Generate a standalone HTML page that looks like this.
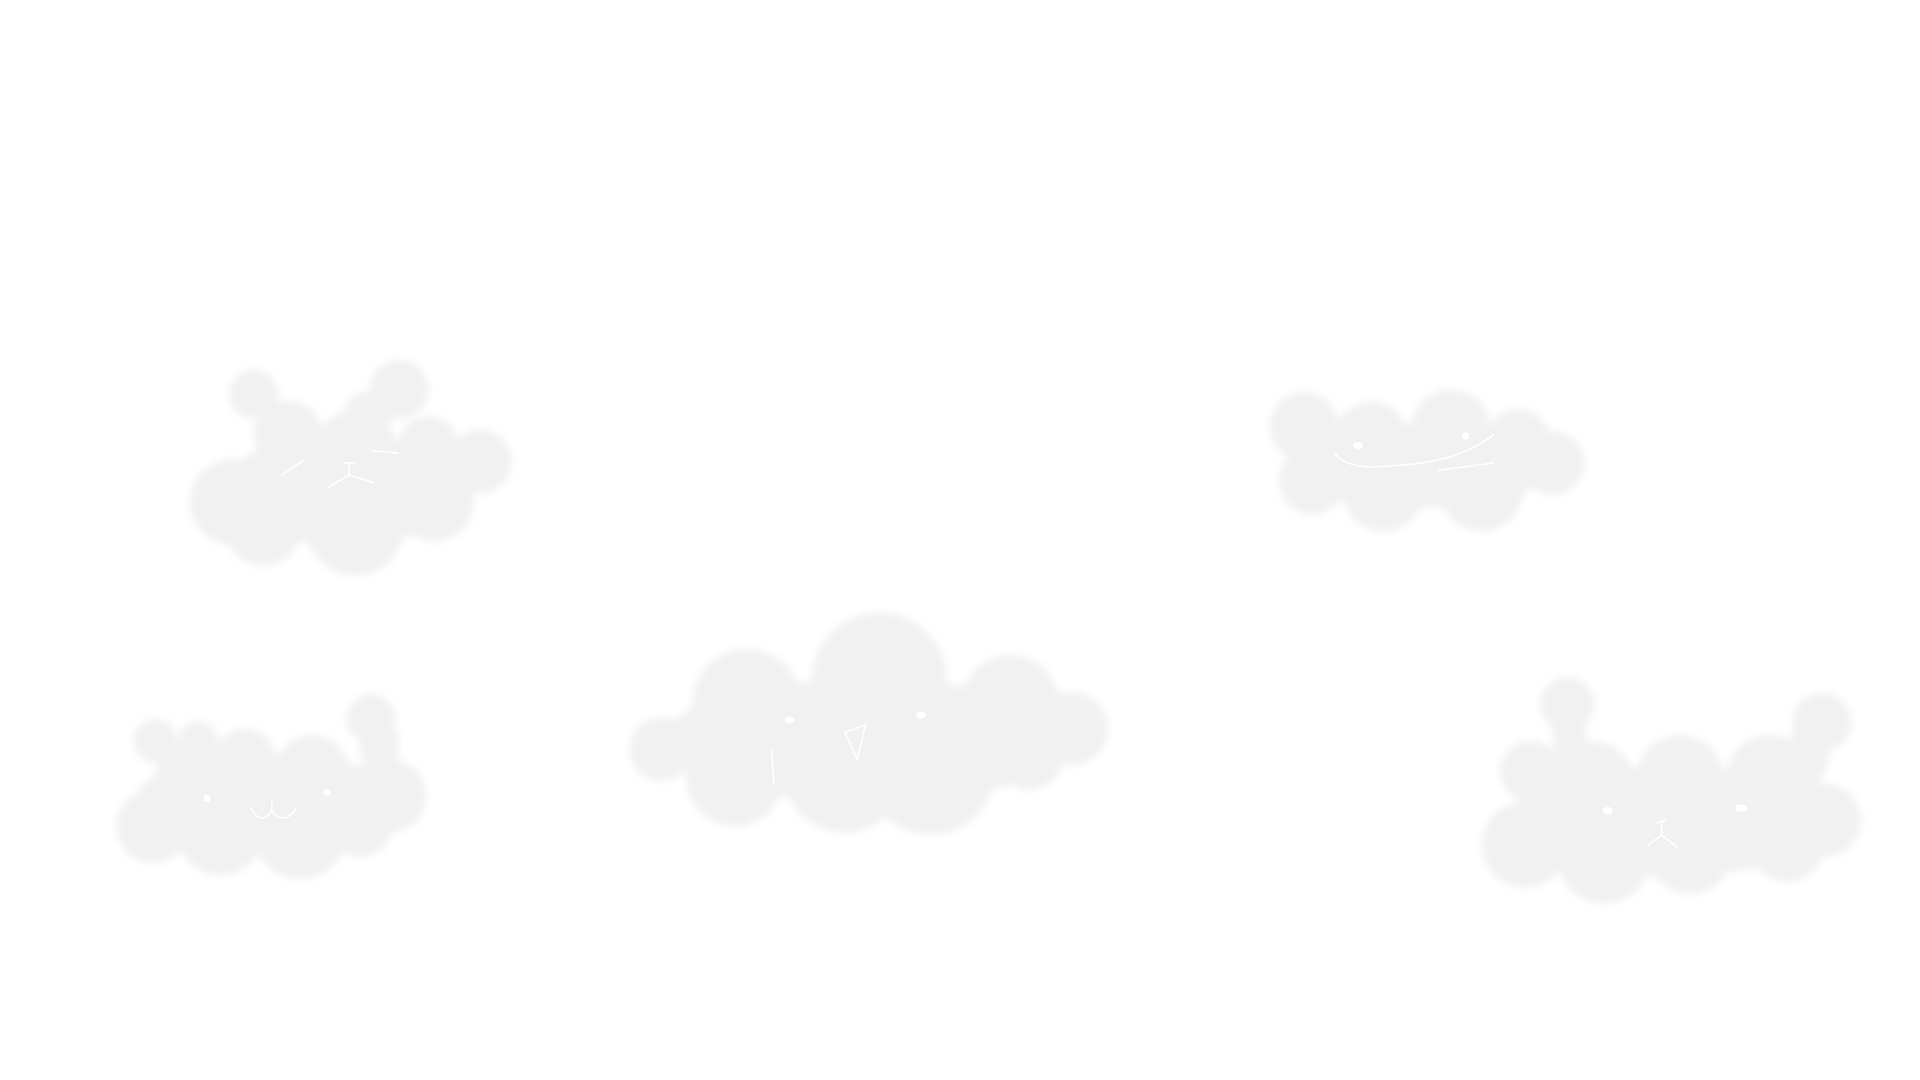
<!DOCTYPE html>
<html><head><meta charset="utf-8"><style>html,body{margin:0;padding:0;background:#fff;width:1920px;height:1080px;overflow:hidden}</style></head>
<body>
<svg width="1920" height="1080" viewBox="0 0 1568 882" xmlns="http://www.w3.org/2000/svg">
<defs><filter id="b" x="-20%" y="-20%" width="140%" height="140%"><feGaussianBlur stdDeviation="3"/></filter></defs>
<rect width="1568" height="882" fill="#fff"/>
<g fill="#f1f1f1" filter="url(#b)">
<!-- cloud 1 -->
<circle cx="207" cy="322" r="20"/><circle cx="326" cy="318" r="24"/><circle cx="300" cy="340" r="20"/>
<circle cx="235" cy="355" r="28"/><circle cx="290" cy="370" r="35"/><circle cx="350" cy="365" r="25"/>
<circle cx="392" cy="377" r="26"/><circle cx="190" cy="410" r="35"/><circle cx="215" cy="430" r="32"/>
<circle cx="290" cy="430" r="40"/><circle cx="355" cy="410" r="32"/><circle cx="250" cy="400" r="40"/>
<ellipse cx="280" cy="400" rx="100" ry="45"/>
<!-- cloud 2 -->
<circle cx="1065" cy="348" r="28"/><circle cx="1120" cy="358" r="30"/><circle cx="1185" cy="350" r="32"/>
<circle cx="1240" cy="360" r="26"/><circle cx="1268" cy="378" r="26"/><circle cx="1072" cy="392" r="28"/>
<circle cx="1130" cy="400" r="34"/><circle cx="1210" cy="400" r="34"/><circle cx="1160" cy="380" r="35"/>
<ellipse cx="1160" cy="380" rx="110" ry="35"/>
<!-- cloud 3 -->
<circle cx="540" cy="612" r="26"/><circle cx="610" cy="575" r="45"/><circle cx="718" cy="555" r="55"/>
<circle cx="825" cy="575" r="40"/><circle cx="875" cy="595" r="30"/><circle cx="600" cy="635" r="40"/>
<circle cx="690" cy="630" r="50"/><circle cx="760" cy="630" r="52"/><circle cx="840" cy="615" r="30"/>
<ellipse cx="710" cy="605" rx="170" ry="50"/>
<!-- cloud 4 -->
<circle cx="127" cy="605" r="18"/><circle cx="162" cy="605" r="16"/><circle cx="200" cy="620" r="25"/>
<circle cx="255" cy="630" r="30"/><circle cx="303" cy="587" r="20"/><circle cx="318" cy="650" r="30"/>
<circle cx="125" cy="675" r="30"/><circle cx="180" cy="680" r="35"/><circle cx="245" cy="680" r="38"/>
<circle cx="295" cy="675" r="25"/><circle cx="160" cy="640" r="35"/>
<ellipse cx="220" cy="655" rx="110" ry="40"/>
<ellipse cx="310" cy="610" rx="16" ry="25"/>
<!-- cloud 5 -->
<circle cx="1280" cy="575" r="22"/><circle cx="1488" cy="590" r="24"/><circle cx="1250" cy="630" r="25"/>
<circle cx="1300" cy="640" r="35"/><circle cx="1372" cy="635" r="35"/><circle cx="1445" cy="635" r="35"/>
<circle cx="1490" cy="670" r="30"/><circle cx="1245" cy="690" r="35"/><circle cx="1310" cy="700" r="38"/>
<circle cx="1380" cy="695" r="35"/><circle cx="1460" cy="690" r="30"/><circle cx="1360" cy="665" r="45"/>
<ellipse cx="1365" cy="670" rx="135" ry="45"/>
<ellipse cx="1282" cy="598" rx="14" ry="28"/><ellipse cx="1478" cy="612" rx="16" ry="30"/>
</g>
<g fill="none" stroke="#fff" stroke-width="1.3" stroke-linecap="round">
<path d="M230 388 L248 376"/><path d="M303 368 L325 370"/><path d="M281 378 L290 378 M285 378 L285 388 M285 388 L268 398 M285 388 L305 394"/>
<path d="M1090 370 Q1100 385 1140 380 Q1190 378 1220 355"/><path d="M1175 384 L1220 378"/>
<path d="M690 598 L707 592 L700 620 Z"/><path d="M630 612 L632 640"/>
<path d="M205 660 Q213 675 222 662 Q232 675 242 660"/><path d="M222 655 L222 662"/>
<path d="M1353 672 L1360 670 M1357 670 L1357 682 M1357 682 L1346 690 M1357 682 L1370 692"/>
</g>
<g fill="#fff">
<ellipse cx="1109" cy="364" rx="4" ry="3"/><ellipse cx="1197" cy="356" rx="3" ry="3"/>
<ellipse cx="645" cy="588" rx="4" ry="3"/><ellipse cx="752" cy="584" rx="4" ry="3"/>
<circle cx="169" cy="652" r="3"/><circle cx="267" cy="647" r="3"/>
<ellipse cx="1313" cy="662" rx="4" ry="3"/><ellipse cx="1422" cy="660" rx="5" ry="3"/>
</g>
</svg>
</body></html>
